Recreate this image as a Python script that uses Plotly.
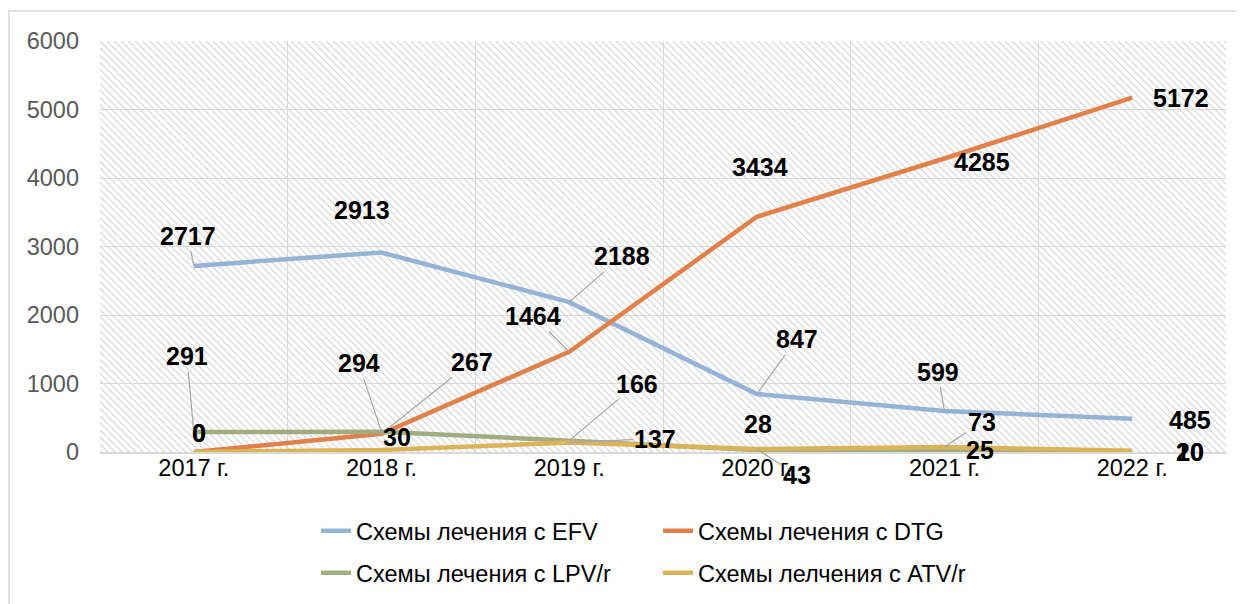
import plotly.graph_objects as go

# ---- data ----
years = ["2017 г.", "2018 г.", "2019 г.", "2020 г.", "2021 г.", "2022 г."]
efv = [2717, 2913, 2188, 847, 599, 485]
dtg = [0, 267, 1464, 3434, 4285, 5172]
lpv = [291, 294, 166, 28, 25, 10]
atv = [0, 30, 137, 43, 73, 20]
names = ["Схемы лечения с EFV", "Схемы лечения с DTG",
         "Схемы лечения с LPV/r", "Схемы лелчения с ATV/r"]
y_ticks = [0, 1000, 2000, 3000, 4000, 5000, 6000]

# ---- styles ----
colors = ["#95B3D7", "#E2804A", "#A1AD80", "#DDB35A"]
FONT = "Liberation Sans, Arial, sans-serif"

# label placement (dx, dy in px, leader line?)
offsets = [
    [(-6, -30, True), (-20, -42, False), (53, -46, True), (40, -55, True), (-7, -39, True), (58, 1, False)],
    [(5, -19, False), (90, -72, True), (-36, -36, True), (3, -50, False), (37, 4, False), (49, 0, False)],
    [(-7, -76, True), (-23, -69, True), (68, -57, True), (1, -26, False), (35, 0, False), (58, 1, False)],
    [(5, -19, False), (15, -13, False), (86, -4, True), (40, 26, True), (37, -25, True), (58, 1, False)],
]

series = [efv, dtg, lpv, atv]

fig = go.Figure()

# hatched plot background (decoration on hidden axes x/y)
fig.add_trace(go.Bar(
    x=[0], y=[1], width=[1], xaxis="x", yaxis="y",
    marker=dict(color="rgba(0,0,0,0)", line=dict(width=0),
                pattern=dict(shape="\\", fgcolor="#D6D6D6", bgcolor="rgba(0,0,0,0)",
                             size=5, solidity=0.25, fillmode="replace")),
    hoverinfo="skip", showlegend=False))

for i, (vals, nm, col) in enumerate(zip(series, names, colors)):
    fig.add_trace(go.Scatter(
        x=years, y=vals, name=nm, mode="lines",
        line=dict(color=col, width=4.5),
        xaxis="x2", yaxis="y2",
        legend="legend" if i < 2 else "legend2"))

annotations = []
for vals, offs in zip(series, offsets):
    for xv, yv, (dx, dy, leader) in zip(years, vals, offs):
        a = dict(x=xv, y=yv, xref="x2", yref="y2", text=f"<b>{yv}</b>",
                 font=dict(family=FONT, size=25, color="#000000"))
        if leader:
            a.update(showarrow=True, ax=dx, ay=dy, arrowhead=0, arrowwidth=1.2,
                     arrowcolor="#A6A6A6", standoff=0, startstandoff=0)
        else:
            a.update(showarrow=False, xshift=dx, yshift=-dy)
        annotations.append(a)

PAGE = 8  # default page body margin
W, H = 1236, 596
L, R, T, B = 92, 18, 33, 152
pw, ph = W - L - R, H - T - B

def px_x(p):  # page pixel -> paper
    return (p - PAGE - L) / pw

def px_y(p):
    return (H - B - (p - PAGE)) / ph

shapes = [
    dict(type="line", xref="paper", yref="paper", x0=px_x(8), x1=px_x(1260),
         y0=px_y(11), y1=px_y(11), line=dict(color="#D9D9D9", width=1.5), layer="below"),
    dict(type="line", xref="paper", yref="paper", x0=px_x(9), x1=px_x(9),
         y0=px_y(11), y1=px_y(620), line=dict(color="#D9D9D9", width=1.5), layer="below"),
]

fig.update_layout(
    width=W, height=H, margin=dict(l=L, r=R, t=T, b=B, autoexpand=False),
    paper_bgcolor="white", plot_bgcolor="white",
    font=dict(family=FONT, size=23.5, color="#000000"),
    xaxis=dict(range=[-0.5, 0.5], visible=False, fixedrange=True, domain=[0, 1]),
    yaxis=dict(range=[0, 1], visible=False, fixedrange=True, domain=[0, 1]),
    xaxis2=dict(overlaying="x", type="category", range=[-0.5, 5.5],
                tickson="boundaries", showgrid=True, gridcolor="#D9D9D9", gridwidth=1,
                ticks="", showline=True, linecolor="#D9D9D9", linewidth=1.5,
                tickfont=dict(family=FONT, size=23.5, color="#000000"),
                ticklabelstandoff=-6, zeroline=False, automargin=False),
    yaxis2=dict(overlaying="y", range=[0, 6000], tickvals=y_ticks,
                showgrid=True, gridcolor="#D9D9D9", gridwidth=1, zeroline=False,
                ticks="", showline=False,
                tickfont=dict(family=FONT, size=23.5, color="#595959"),
                ticklabelstandoff=20, automargin=False),
    legend=dict(orientation="h", x=px_x(316), y=px_y(531), xanchor="left", yanchor="middle",
                entrywidth=297, entrywidthmode="pixels",
                font=dict(family=FONT, size=23.5, color="#000000"), bgcolor="rgba(0,0,0,0)",
                itemwidth=30, tracegroupgap=0),
    legend2=dict(orientation="h", x=px_x(316), y=px_y(573), xanchor="left", yanchor="middle",
                 entrywidth=297, entrywidthmode="pixels",
                 font=dict(family=FONT, size=23.5, color="#000000"), bgcolor="rgba(0,0,0,0)",
                 itemwidth=30, tracegroupgap=0),
    annotations=annotations, shapes=shapes,
    showlegend=True, bargap=0,
)

fig.write_html("out.html")
